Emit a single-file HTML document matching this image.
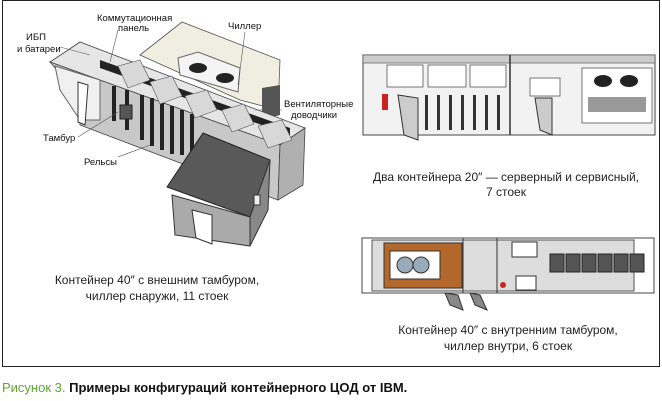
<!DOCTYPE html>
<html><head><meta charset="utf-8"><style>
html,body{margin:0;padding:0;background:#fff;width:662px;height:401px;overflow:hidden}
svg{position:absolute;left:0;top:0}
.t{font-family:"Liberation Sans","DejaVu Sans",sans-serif;}
</style></head><body>
<svg width="662" height="401" viewBox="0 0 662 401" xmlns="http://www.w3.org/2000/svg">
<rect x="2.5" y="0.5" width="657" height="366" fill="#fff" stroke="#222" stroke-width="1"/>

<!-- LEFT ISOMETRIC -->
<polygon points="140,55 182,22 280,60 278,110 240,100" fill="#efeee0" stroke="#555" stroke-width="0.8"/>
<polygon points="178,58 198,52 240,68 238,92 180,75" fill="#f4f4f4" stroke="#666"/>
<ellipse cx="198" cy="68" rx="9" ry="5" fill="#222"/>
<ellipse cx="225" cy="78" rx="9" ry="5" fill="#222"/>
<polygon points="262,88 280,85 280,115 262,120" fill="#555"/>
<polygon points="50,62 80,42 305,128 280,145" fill="#e6e6e6" stroke="#444" stroke-width="0.8"/>
<polygon points="50,62 280,145 278,200 80,125 78,95" fill="#c8c8c8" stroke="#444" stroke-width="0.8"/>
<polygon points="280,145 305,128 303,185 278,200" fill="#b0b0b0" stroke="#444" stroke-width="0.8"/>
<polygon points="55,66 100,80 100,120 80,120 60,90" fill="#f0f0f0" stroke="#666"/>
<polygon points="78,82 88,85 85,125 78,122" fill="#fff" stroke="#333"/>
<g fill="#222">
<rect x="140" y="95" width="4" height="45"/><rect x="150" y="98" width="4" height="48"/>
<rect x="160" y="102" width="4" height="48"/><rect x="170" y="106" width="4" height="48"/>
<rect x="180" y="110" width="4" height="45"/><rect x="190" y="114" width="4" height="40"/>
<rect x="125" y="90" width="4" height="40"/><rect x="112" y="86" width="4" height="35"/>
</g>
<polygon points="100,60 290,128 290,135 100,68" fill="#222"/>
<g fill="#d8d8d8" stroke="#555" stroke-width="0.6">
<polygon points="118,66 140,60 150,80 128,88"/>
<polygon points="150,82 172,76 182,96 160,104"/>
<polygon points="185,96 207,90 217,110 195,118"/>
<polygon points="222,110 244,104 254,124 232,132"/>
<polygon points="258,126 282,120 292,140 268,148"/>
</g>
<rect x="120" y="105" width="12" height="14" fill="#555" stroke="#222"/>
<polygon points="167,187 203,133 270,160 250,217" fill="#595959" stroke="#222"/>
<polygon points="172,195 250,217 250,246 175,235" fill="#aaa" stroke="#333"/>
<polygon points="250,217 270,160 268,210 250,246" fill="#888" stroke="#333"/>
<polygon points="192,210 212,215 212,244 196,238" fill="#fff" stroke="#333"/>
<rect x="254" y="195" width="6" height="10" fill="#eee" stroke="#333"/>
<g stroke="#555" stroke-width="0.6" fill="none">
<line x1="60" y1="47" x2="90" y2="55"/><line x1="118" y1="30" x2="110" y2="62"/>
<line x1="245" y1="32" x2="238" y2="85"/><line x1="282" y1="110" x2="255" y2="110"/>
<line x1="78" y1="137" x2="118" y2="112"/><line x1="118" y1="157" x2="150" y2="145"/>
</g>
<g class="t" font-size="9.5" fill="#111">
<text x="97" y="21">Коммутационная</text><text x="118" y="31">панель</text>
<text x="228" y="29">Чиллер</text>
<text x="26" y="40">ИБП</text><text x="17" y="52">и батареи</text>
<text x="284" y="107">Вентиляторные</text><text x="291" y="118">доводчики</text>
<text x="43" y="141">Тамбур</text><text x="84" y="165">Рельсы</text>
</g>
<g class="t" font-size="12" fill="#222" text-anchor="middle">
<text x="157" y="284">Контейнер 40″ с внешним тамбуром,</text>
<text x="157" y="300">чиллер снаружи, 11 стоек</text>
</g>

<!-- RIGHT TOP -->
<polygon points="363,55 655,55 655,135 363,135" fill="#f2f2f2" stroke="#444"/>
<rect x="363" y="55" width="292" height="8" fill="#ccc" stroke="#444" stroke-width="0.6"/>
<line x1="510" y1="55" x2="510" y2="135" stroke="#333" stroke-width="1.5"/>
<g fill="#fff" stroke="#555" stroke-width="0.8">
<rect x="387" y="65" width="36" height="22"/><rect x="428" y="65" width="38" height="22"/><rect x="470" y="65" width="36" height="22"/>
<rect x="530" y="78" width="30" height="18"/><rect x="582" y="68" width="70" height="55"/>
</g>
<ellipse cx="603" cy="81" rx="9" ry="6" fill="#222"/><ellipse cx="629" cy="81" rx="9" ry="6" fill="#222"/>
<rect x="588" y="97" width="58" height="15" fill="#999"/>
<g fill="#333"><rect x="425" y="95" width="3" height="35"/><rect x="437" y="95" width="3" height="35"/><rect x="449" y="95" width="3" height="35"/><rect x="461" y="95" width="3" height="35"/><rect x="473" y="95" width="3" height="35"/><rect x="485" y="95" width="3" height="35"/><rect x="497" y="95" width="3" height="35"/></g>
<rect x="382" y="94" width="6" height="16" fill="#c22"/>
<polygon points="398,95 418,98 418,140 404,135" fill="#ccc" stroke="#333"/>
<polygon points="535,98 552,98 552,135 540,130" fill="#ccc" stroke="#333"/>
<g class="t" font-size="12" fill="#222" text-anchor="middle">
<text x="506" y="181">Два контейнера 20″ — серверный и сервисный,</text>
<text x="506" y="196">7 стоек</text>
</g>

<!-- RIGHT BOTTOM -->
<rect x="362" y="238" width="292" height="55" fill="#fff" stroke="#444"/>
<rect x="372" y="240" width="262" height="51" fill="#ddd" stroke="#555"/>
<rect x="384" y="243" width="78" height="45" fill="#b4672a" stroke="#333"/>
<rect x="390" y="251" width="50" height="28" fill="#fff" stroke="#333"/>
<circle cx="405" cy="265" r="8" fill="#9ab" stroke="#333"/><circle cx="421" cy="265" r="8" fill="#9ab" stroke="#333"/>
<line x1="463" y1="238" x2="463" y2="293" stroke="#333"/>
<line x1="497" y1="238" x2="497" y2="293" stroke="#333"/>
<rect x="512" y="242" width="25" height="15" fill="#fff" stroke="#333"/>
<rect x="516" y="276" width="20" height="14" fill="#fff" stroke="#333"/>
<circle cx="503" cy="285" r="3" fill="#c22"/>
<g fill="#555" stroke="#222"><rect x="550" y="254" width="14" height="18"/><rect x="566" y="254" width="14" height="18"/><rect x="582" y="254" width="14" height="18"/><rect x="598" y="254" width="14" height="18"/><rect x="614" y="254" width="14" height="18"/><rect x="630" y="254" width="14" height="18"/></g>
<polygon points="445,293 458,295 463,310 450,305" fill="#888" stroke="#333"/>
<polygon points="470,293 480,295 487,310 475,305" fill="#888" stroke="#333"/>
<g class="t" font-size="12" fill="#222" text-anchor="middle">
<text x="508" y="334">Контейнер 40″ с внутренним тамбуром,</text>
<text x="508" y="350">чиллер внутри, 6 стоек</text>
</g>

<text class="t" x="2" y="392" font-size="13" font-weight="bold"><tspan fill="#5ea832" font-weight="normal">Рисунок 3.</tspan><tspan fill="#111"> Примеры конфигураций контейнерного ЦОД от IBM.</tspan></text>
</svg>
</body></html>
